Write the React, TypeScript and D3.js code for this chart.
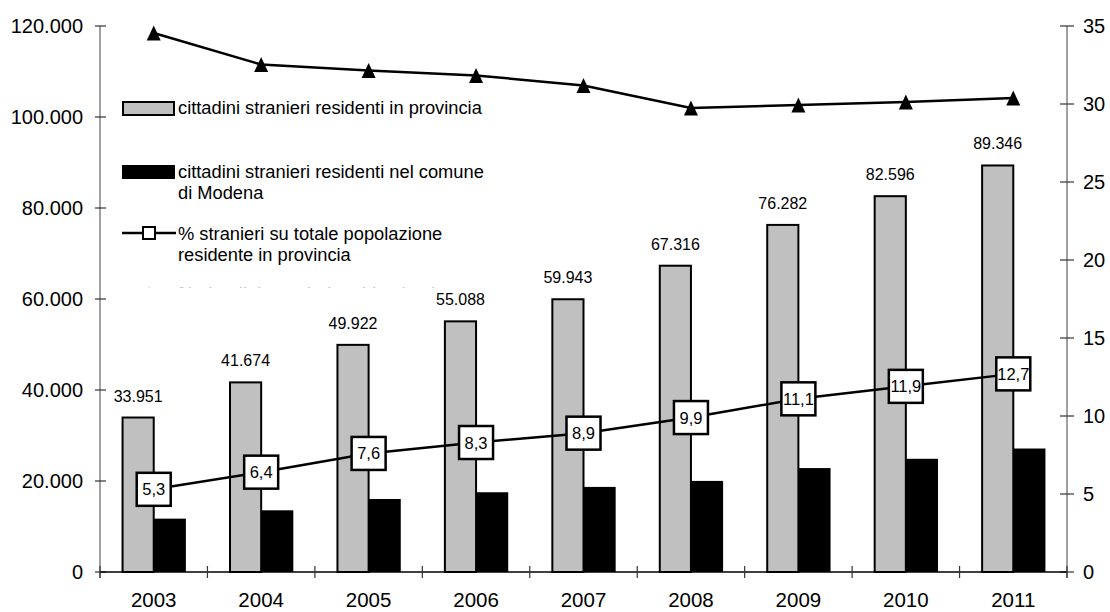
import React, { useEffect, useRef } from 'react';
import * as d3 from 'd3';

const years = ['2003', '2004', '2005', '2006', '2007', '2008', '2009', '2010', '2011'];
const provincia = [33951, 41674, 49922, 55088, 59943, 67316, 76282, 82596, 89346];
const comune = [11730, 13560, 16050, 17530, 18700, 20020, 22840, 24880, 27140];
const pctProvincia = [5.3, 6.4, 7.6, 8.3, 8.9, 9.9, 11.1, 11.9, 12.7];
const pctComune = [34.55, 32.53, 32.15, 31.83, 31.19, 29.74, 29.94, 30.13, 30.38];
const leftTicks = [0, 20000, 40000, 60000, 80000, 100000, 120000];
const rightTicks = [0, 5, 10, 15, 20, 25, 30, 35];

const FONT = "Arial, 'Liberation Sans', sans-serif";

const locale = d3.formatLocale({ decimal: ',', thousands: '.', grouping: [3], currency: ['', ''] });
const fmtThousands = locale.format(',d');
const fmtPct = locale.format('.1f');

// triangle centred on its bounding box
const triangle = {
  draw(ctx: any) {
    ctx.moveTo(0, -7.5);
    ctx.lineTo(7, 7.5);
    ctx.lineTo(-7, 7.5);
    ctx.closePath();
  }
};

export default function App() {
  const svgRef = useRef<SVGSVGElement>(null);

  useEffect(() => {
    if (!svgRef.current) return;
    const width = 1110;
    const height = 612;
    const left = 100, right = 1067, top = 26, bottom = 572;

    const svg = d3.select(svgRef.current);
    svg.selectAll('*').remove();
    svg.attr('width', width).attr('height', height);

    const x = d3.scaleBand().domain(years).range([left, right]);
    const yL = d3.scaleLinear().domain([0, 120000]).range([bottom, top]);
    const yR = d3.scaleLinear().domain([0, 35]).range([bottom, top]);
    const bw = x.bandwidth();
    const barW = bw * 0.29;
    const cx = (d: string) => (x(d) || 0) + bw / 2;

    svg.append('defs').append('clipPath').attr('id', 'legendClip')
      .append('rect').attr('x', 0).attr('y', 0).attr('width', width).attr('height', 287.5);

    // Bars
    svg.append('g').selectAll('rect')
      .data(years)
      .join('rect')
      .attr('x', (d) => cx(d) - barW)
      .attr('y', (d, i) => yL(provincia[i]))
      .attr('width', barW)
      .attr('height', (d, i) => bottom - yL(provincia[i]))
      .attr('fill', '#c0c0c0')
      .attr('stroke', '#000')
      .attr('stroke-width', 2);

    svg.append('g').selectAll('rect')
      .data(years)
      .join('rect')
      .attr('x', (d) => cx(d))
      .attr('y', (d, i) => yL(comune[i]))
      .attr('width', barW + 1)
      .attr('height', (d, i) => bottom - yL(comune[i]))
      .attr('fill', '#000');

    // Bar value labels
    svg.append('g').selectAll('text')
      .data(years)
      .join('text')
      .attr('x', (d) => cx(d) - barW / 2)
      .attr('y', (d, i) => yL(provincia[i]) - 16)
      .attr('text-anchor', 'middle')
      .style('font-family', FONT)
      .style('font-size', '16px')
      .text((d, i) => fmtThousands(provincia[i]));

    // Left axis
    svg.append('line')
      .attr('x1', left).attr('x2', left).attr('y1', top).attr('y2', bottom + 6)
      .attr('stroke', '#808080').attr('stroke-width', 1.5);
    const gl = svg.append('g');
    gl.selectAll('line').data(leftTicks).join('line')
      .attr('x1', left - 5).attr('x2', left + 6)
      .attr('y1', (d) => yL(d)).attr('y2', (d) => yL(d))
      .attr('stroke', '#333').attr('stroke-width', 1.2);
    gl.selectAll('text').data(leftTicks).join('text')
      .attr('x', left - 17).attr('y', (d) => yL(d) + 7)
      .attr('text-anchor', 'end')
      .style('font-family', FONT).style('font-size', '20px')
      .text((d) => fmtThousands(d));

    // Right axis
    svg.append('line')
      .attr('x1', right).attr('x2', right).attr('y1', top).attr('y2', bottom + 6)
      .attr('stroke', '#808080').attr('stroke-width', 1.5);
    const gr = svg.append('g');
    gr.selectAll('line').data(rightTicks).join('line')
      .attr('x1', right - 7).attr('x2', right + 7)
      .attr('y1', (d) => yR(d)).attr('y2', (d) => yR(d))
      .attr('stroke', '#333').attr('stroke-width', 1.2);
    gr.selectAll('text').data(rightTicks).join('text')
      .attr('x', right + 16).attr('y', (d) => yR(d) + 7)
      .style('font-family', FONT).style('font-size', '20px')
      .text((d) => String(d));

    // X axis
    svg.append('line')
      .attr('x1', left).attr('x2', right).attr('y1', bottom).attr('y2', bottom)
      .attr('stroke', '#000').attr('stroke-width', 1.5);
    const boundaries = years.map((d) => x(d) || 0).concat([right]);
    svg.append('g').selectAll('line').data(boundaries).join('line')
      .attr('x1', (d) => d).attr('x2', (d) => d)
      .attr('y1', bottom - 6).attr('y2', bottom + 6)
      .attr('stroke', '#333').attr('stroke-width', 1.2);
    svg.append('g').selectAll('text').data(years).join('text')
      .attr('x', (d) => cx(d)).attr('y', 607)
      .attr('text-anchor', 'middle')
      .style('font-family', FONT).style('font-size', '20.5px')
      .text((d) => d);

    // Triangle line (% comune su provincia)
    const lineT = d3.line<number>().x((d, i) => cx(years[i])).y((d) => yR(d));
    svg.append('path').datum(pctComune)
      .attr('d', lineT).attr('fill', 'none').attr('stroke', '#000').attr('stroke-width', 2.5);
    svg.append('g').selectAll('path').data(pctComune).join('path')
      .attr('d', d3.symbol(triangle as any)())
      .attr('transform', (d, i) => `translate(${cx(years[i])},${yR(d)})`)
      .attr('fill', '#000');

    // Square line (% stranieri su popolazione)
    const lineS = d3.line<number>().x((d, i) => cx(years[i])).y((d) => yR(d));
    svg.append('path').datum(pctProvincia)
      .attr('d', lineS).attr('fill', 'none').attr('stroke', '#000').attr('stroke-width', 2.5);
    const boxes = svg.append('g').selectAll('g').data(pctProvincia).join('g')
      .attr('transform', (d, i) => `translate(${cx(years[i])},${yR(d)})`);
    boxes.append('rect')
      .attr('x', -17).attr('y', -16.5).attr('width', 34).attr('height', 33)
      .attr('fill', '#fff');
    boxes.append('text')
      .attr('y', 6).attr('text-anchor', 'middle')
      .style('font-family', FONT).style('font-size', '16.5px')
      .text((d) => fmtPct(d));
    boxes.append('rect')
      .attr('x', -17).attr('y', -16.5).attr('width', 34).attr('height', 33)
      .attr('fill', 'none').attr('stroke', '#000').attr('stroke-width', 2.5);

    // Legend
    const lg = svg.append('g').style('font-family', FONT).style('font-size', '18.3px');
    lg.append('rect').attr('x', 123).attr('y', 102).attr('width', 51).attr('height', 13)
      .attr('fill', '#c0c0c0').attr('stroke', '#000').attr('stroke-width', 2);
    lg.append('text').attr('x', 178).attr('y', 114).text('cittadini stranieri residenti in provincia');

    lg.append('rect').attr('x', 122).attr('y', 165).attr('width', 53).attr('height', 14).attr('fill', '#000');
    lg.append('text').attr('x', 178).attr('y', 178).text('cittadini stranieri residenti nel comune');
    lg.append('text').attr('x', 178).attr('y', 199).text('di Modena');

    lg.append('line').attr('x1', 122).attr('x2', 176).attr('y1', 233).attr('y2', 233)
      .attr('stroke', '#000').attr('stroke-width', 2.5);
    lg.append('rect').attr('x', 143).attr('y', 227).attr('width', 12).attr('height', 12)
      .attr('fill', '#fff').attr('stroke', '#000').attr('stroke-width', 2);
    lg.append('text').attr('x', 178).attr('y', 240).text('% stranieri su totale popolazione');
    lg.append('text').attr('x', 178).attr('y', 261).text('residente in provincia');

    // fourth entry, cut off by the legend box
    const hidden = lg.append('g').attr('clip-path', 'url(#legendClip)').attr('opacity', 0.5);
    hidden.append('path').attr('d', d3.symbol(triangle as any)())
      .attr('transform', 'translate(149,294)').attr('fill', '#000');
    hidden.append('text').attr('x', 178).attr('y', 299.5)
      .text('% cittadini stranieri residenti nel');
  }, []);

  return (
    <div style={{ position: 'fixed', left: 0, top: 0, width: 1110, height: 612, background: '#fff' }}>
      <svg ref={svgRef} style={{ display: 'block' }} />
    </div>
  );
}
